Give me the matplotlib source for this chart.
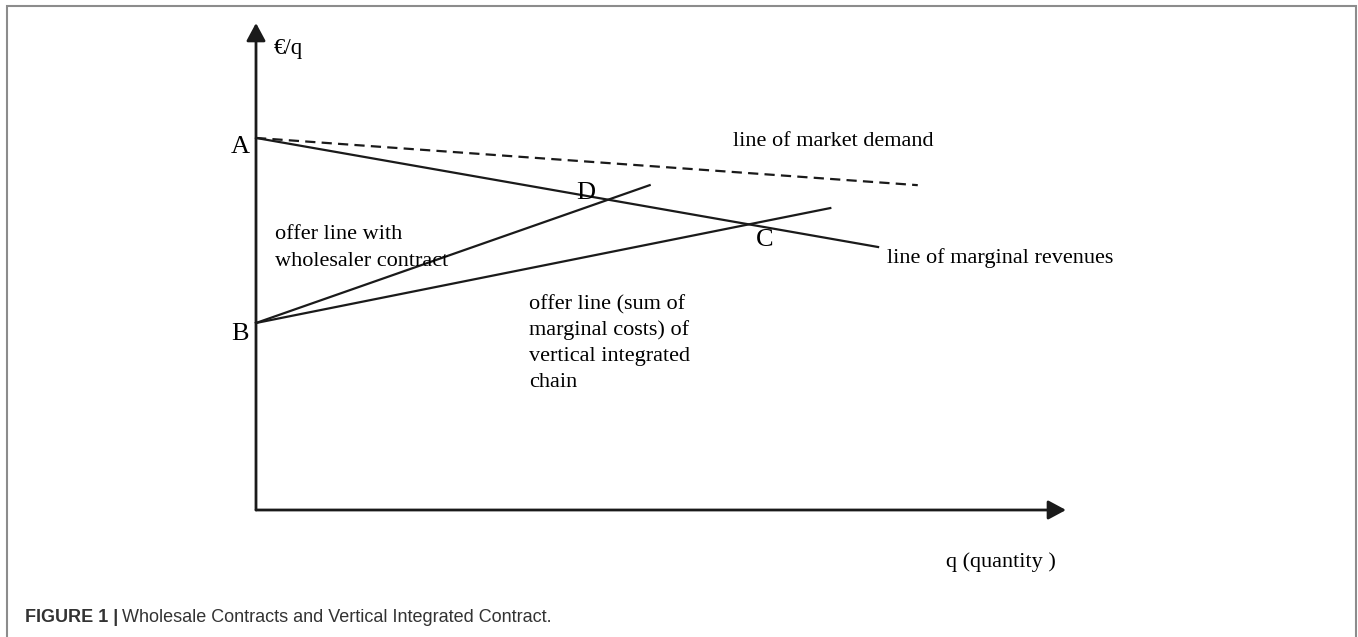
import matplotlib
matplotlib.use("Agg")
import matplotlib.pyplot as plt
from matplotlib.patches import Rectangle

# ---- data (axis units 0..100 for quantity and price) ----
point_A = 76.4          # intercept of demand / marginal revenue
point_B = 38.4          # intercept of the offer lines
demand_q = [0, 81.7]
demand_p = [point_A, 66.7]
mr_q = [0, 76.8]
mr_p = [point_A, 54.0]
wholesale_q = [0, 48.6]
wholesale_p = [point_B, 66.7]
integrated_q = [0, 70.9]
integrated_p = [point_B, 62.0]

wholesale_label = ["offer line with", "wholesaler contract"]
integrated_label = ["offer line (sum of", "marginal costs) of",
                    "vertical integrated", "chain"]

W, H = 1358, 637
fig = plt.figure(figsize=(W / 100, H / 100), dpi=100)

# axes placed so that its origin sits at the axis intersection
x0, y0, x1, y1 = 256, 510, 1066, 23
ax = fig.add_axes([x0 / W, 1 - y0 / H, (x1 - x0) / W, (y0 - y1) / H])
ax.set_xlim(0, 100)
ax.set_ylim(0, 100)
ax.axis("off")

def q_of(px):
    return (px - x0) / (x1 - x0) * 100

def p_of(py):
    return (y0 - py) / (y0 - y1) * 100

ink = "#1a1a1a"
serif = ["Liberation Serif", "DejaVu Serif"]

# axes with arrow heads
arrow = dict(arrowstyle="-|>,head_length=0.54,head_width=0.29",
             mutation_scale=20, lw=2.0, color=ink, shrinkA=0, shrinkB=0)
ax.annotate("", xy=(0, 100), xytext=(0, 0), arrowprops=arrow,
            annotation_clip=False)
ax.annotate("", xy=(100, 0), xytext=(0, 0), arrowprops=arrow,
            annotation_clip=False)

lw = 1.6
ax.plot(demand_q, demand_p, color=ink, lw=lw, dashes=(4.6, 2.8),
        solid_capstyle="butt", clip_on=False)
ax.plot(mr_q, mr_p, color=ink, lw=lw, clip_on=False)
ax.plot(wholesale_q, wholesale_p, color=ink, lw=lw, clip_on=False)
ax.plot(integrated_q, integrated_p, color=ink, lw=lw, clip_on=False)

big = 19
mid = 16

def txt(px, py, s, size=mid, ha="left"):
    ax.text(q_of(px), p_of(py), s, fontsize=size, ha=ha, va="baseline",
            family=serif, color="black", clip_on=False)

txt(274, 54, "€/q", size=16.5)
txt(250, 153, "A", size=big, ha="right")
txt(249, 340, "B", size=big, ha="right")
txt(576, 199, "D", size=big)
txt(756, 246, "C", size=big)
txt(733, 146, "line of market demand")
txt(887, 263, "line of marginal revenues")
for i, s in enumerate(wholesale_label):
    txt(275, 239 + 27 * i, s)
for i, s in enumerate(integrated_label):
    txt(529, 309 + 26 * i, s)
txt(946, 567, "q (quantity )")

# frame around the figure panel
fig.patches.append(Rectangle((7 / W, -0.05), (1356 - 7) / W, 1 - 6 / H + 0.05,
                             transform=fig.transFigure, fill=False,
                             edgecolor="#8c8c8c", lw=1.5))

# caption
cap_y = 1 - 622 / H
cap_font = ["Liberation Sans Narrow", "Liberation Sans"]
t1 = fig.text(25 / W, cap_y, "FIGURE 1 |", fontsize=13, fontweight="bold",
              family=cap_font, color="#333333", va="baseline")
fig.canvas.draw()
bb = t1.get_window_extent()
fig.text(bb.x1 / W + 4 / W, cap_y,
         "Wholesale Contracts and Vertical Integrated Contract.",
         fontsize=13, family=cap_font, color="#333333", va="baseline")

fig.savefig("out.png", dpi=100)
